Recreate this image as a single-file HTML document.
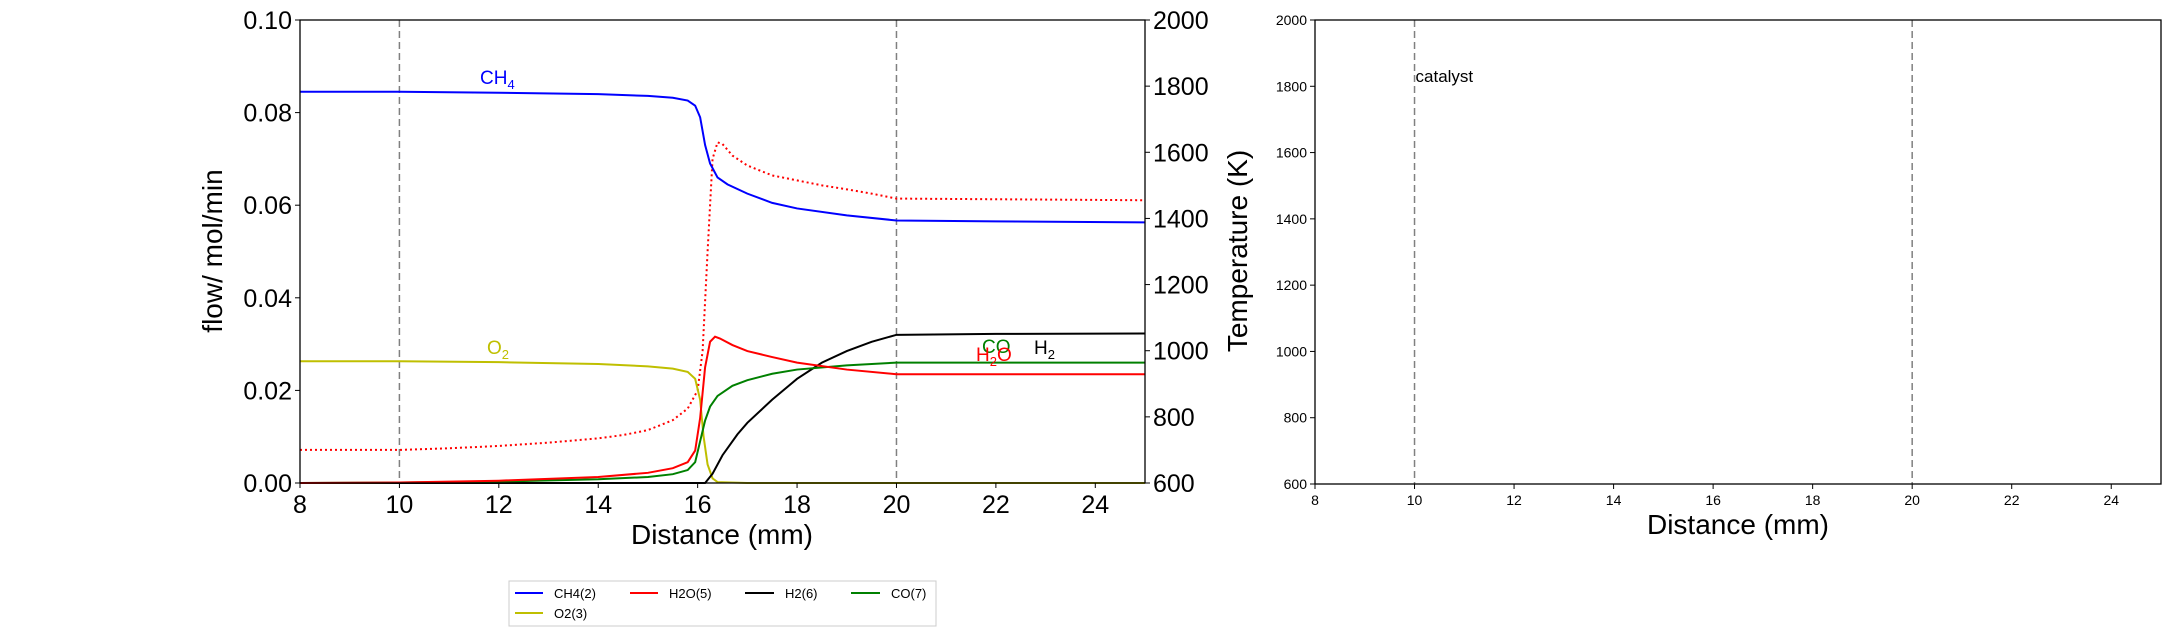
<!DOCTYPE html>
<html><head><meta charset="utf-8"><style>
html,body{margin:0;padding:0;background:#fff;}
svg{display:block;font-family:"Liberation Sans","DejaVu Sans",sans-serif;}
</style></head><body>
<svg id="chart" width="2173" height="636" viewBox="0 0 2173 636">
<g id="left"></g>
<g id="right"></g>
<g>
<rect x="509" y="581" width="427" height="45" fill="#fff" stroke="#ccc" stroke-width="1"/>
<g><line x1="515" y1="593" x2="543" y2="593" stroke="blue" stroke-width="2"/><text x="554" y="598" font-size="13">CH4(2)</text></g>
<g><line x1="630" y1="593" x2="658" y2="593" stroke="red" stroke-width="2"/><text x="669" y="598" font-size="13">H2O(5)</text></g>
<g><line x1="745" y1="593" x2="774" y2="593" stroke="black" stroke-width="2"/><text x="785" y="598" font-size="13">H2(6)</text></g>
<g><line x1="851" y1="593" x2="880" y2="593" stroke="green" stroke-width="2"/><text x="891" y="598" font-size="13">CO(7)</text></g>
<g><line x1="515" y1="613" x2="543" y2="613" stroke="#bfbf00" stroke-width="2"/><text x="554" y="618" font-size="13">O2(3)</text></g>
</g>
</svg>
<script>
const xTicks=[8,10,12,14,16,18,20,22,24];
const flowTicks=[0,0.02,0.04,0.06,0.08,0.10];
const flowTickLabels=["0.00","0.02","0.04","0.06","0.08","0.10"];
const tempTicks=[600,800,1000,1200,1400,1600,1800,2000];
const ch4X=[8,10,12,14,15,15.5,15.8,15.95,16.05,16.15,16.25,16.4,16.6,17,17.5,18,19,20,22,25];
const ch4Y=[0.0845,0.0845,0.0843,0.084,0.0836,0.0832,0.0826,0.0815,0.079,0.073,0.069,0.066,0.0645,0.0625,0.0605,0.0593,0.0578,0.0567,0.0565,0.0563];
const o2X=[8,10,12,14,15,15.5,15.8,15.95,16.05,16.12,16.2,16.3,16.4,17,25];
const o2Y=[0.0263,0.0263,0.0261,0.0257,0.0252,0.0247,0.024,0.0225,0.018,0.01,0.004,0.001,0.0002,0,0];
const h2oX=[8,10,12,14,15,15.5,15.8,15.95,16.05,16.15,16.25,16.35,16.45,16.7,17,17.5,18,19,20,25];
const h2oY=[0,0.0001,0.0005,0.0013,0.0022,0.0032,0.0045,0.007,0.014,0.025,0.0305,0.0316,0.0312,0.0298,0.0285,0.0272,0.026,0.0245,0.0235,0.0235];
const h2X=[8,14,16,16.15,16.3,16.5,16.8,17,17.5,18,18.5,19,19.5,20,22,25];
const h2Y=[0,0,0,0,0.002,0.006,0.0105,0.013,0.018,0.0225,0.026,0.0285,0.0305,0.032,0.0322,0.0323];
const coX=[8,10,12,14,15,15.5,15.8,15.95,16.05,16.15,16.25,16.4,16.7,17,17.5,18,19,20,25];
const coY=[0,0.0001,0.0003,0.0008,0.0013,0.0019,0.0028,0.0045,0.009,0.0135,0.0165,0.0188,0.021,0.0222,0.0236,0.0245,0.0254,0.026,0.026];
const tX=[8,10,11,12,13,14,14.5,15,15.5,15.8,16,16.1,16.2,16.3,16.4,16.5,16.7,17,17.5,18,18.5,19,19.5,20,22,25];
const tY=[700,700,705,712,722,735,745,760,790,825,880,1000,1300,1580,1630,1625,1590,1560,1530,1515,1500,1488,1475,1460,1458,1455];

const NS="http://www.w3.org/2000/svg";
function mk(parent,tag,attrs,name,text){const e=document.createElementNS(NS,tag);for(const k in attrs)e.setAttribute(k,attrs[k]);


if(text!==undefined)e.textContent=text;parent.appendChild(e);return e;}

// left plot
const L={x0:300,x1:1145,y0:20,y1:483};
const xs=v=>L.x0+(v-8)/17*(L.x1-L.x0);
const yF=v=>L.y1-v/0.1*(L.y1-L.y0);
const yT=v=>L.y1-(v-600)/1400*(L.y1-L.y0);
const gl=document.getElementById('left');
[10,20].forEach(v=>mk(gl,'line',{x1:xs(v),x2:xs(v),y1:L.y0,y2:L.y1,stroke:'#808080','stroke-width':1.5,'stroke-dasharray':'7,4'},'catalyst-boundary-line'));
function path(X,Y,sy){return X.map((x,i)=>(i?'L':'M')+xs(x).toFixed(2)+','+sy(Y[i]).toFixed(2)).join(' ');}
mk(gl,'path',{d:path(tX,tY,yT),fill:'none',stroke:'red','stroke-width':2,'stroke-dasharray':'2,3'},'temperature-line');
mk(gl,'path',{d:path(ch4X,ch4Y,yF),fill:'none',stroke:'blue','stroke-width':2},'ch4-line');
mk(gl,'path',{d:path(o2X,o2Y,yF),fill:'none',stroke:'#bfbf00','stroke-width':2},'o2-line');
mk(gl,'path',{d:path(h2X,h2Y,yF),fill:'none',stroke:'black','stroke-width':2},'h2-line');
mk(gl,'path',{d:path(coX,coY,yF),fill:'none',stroke:'green','stroke-width':2},'co-line');
mk(gl,'path',{d:path(h2oX,h2oY,yF),fill:'none',stroke:'red','stroke-width':2},'h2o-line');
mk(gl,'rect',{x:L.x0,y:L.y0,width:L.x1-L.x0,height:L.y1-L.y0,fill:'none',stroke:'#000','stroke-width':1.3},'left-plot-frame');
xTicks.forEach(v=>{mk(gl,'line',{x1:xs(v),x2:xs(v),y1:L.y1,y2:L.y1+5,stroke:'#000'},'x-tick');
mk(gl,'text',{x:xs(v),y:L.y1+30,'font-size':25,'text-anchor':'middle'},'x-tick-label',v);});
flowTicks.forEach((v,i)=>{mk(gl,'line',{x1:L.x0-5,x2:L.x0,y1:yF(v),y2:yF(v),stroke:'#000'},'flow-tick');
mk(gl,'text',{x:L.x0-8,y:yF(v)+9,'font-size':25,'text-anchor':'end'},'flow-tick-label',flowTickLabels[i]);});
tempTicks.forEach(v=>{mk(gl,'line',{x1:L.x1,x2:L.x1+5,y1:yT(v),y2:yT(v),stroke:'#000'},'temp-tick');
mk(gl,'text',{x:L.x1+8,y:yT(v)+9,'font-size':25},'temp-tick-label',v);});
mk(gl,'text',{x:722,y:544,'font-size':28,'text-anchor':'middle'},'x-axis-title','Distance (mm)');
mk(gl,'text',{x:0,y:0,'font-size':28,'text-anchor':'middle',transform:'translate(222,251) rotate(-90)'},'flow-axis-title','flow/ mol/min');
mk(gl,'text',{x:0,y:0,'font-size':28,'text-anchor':'middle',transform:'translate(1247,251) rotate(-90)'},'temperature-axis-title','Temperature (K)');
function lab(x,y,col,main,sub,tail,name){const t=mk(gl,'text',{x:x,y:y,fill:col,'font-size':19},name);
t.appendChild(document.createTextNode(main));const s=document.createElementNS(NS,'tspan');s.setAttribute('font-size','13');s.setAttribute('dy','5');s.textContent=sub;t.appendChild(s);
if(tail){const s2=document.createElementNS(NS,'tspan');s2.setAttribute('dy','-5');s2.textContent=tail;t.appendChild(s2);}}
lab(480,84,'blue','CH','4','','ch4-label');
lab(487,354,'#bfbf00','O','2','','o2-label');
mk(gl,'text',{x:982,y:353,fill:'green','font-size':19},'co-label','CO');
lab(976,361,'red','H','2','O','h2o-label');
lab(1034,354,'black','H','2','','h2-label');

// right plot
const R={x0:1315,x1:2161,y0:20,y1:484};
const xr=v=>R.x0+(v-8)/17*(R.x1-R.x0);
const yr=v=>R.y1-(v-600)/1400*(R.y1-R.y0);
const gr=document.getElementById('right');
[10,20].forEach(v=>mk(gr,'line',{x1:xr(v),x2:xr(v),y1:R.y0,y2:R.y1,stroke:'#808080','stroke-width':1.5,'stroke-dasharray':'7,4'},'catalyst-boundary-line'));
mk(gr,'rect',{x:R.x0,y:R.y0,width:R.x1-R.x0,height:R.y1-R.y0,fill:'none',stroke:'#000','stroke-width':1.3},'right-plot-frame');
xTicks.forEach(v=>{mk(gr,'line',{x1:xr(v),x2:xr(v),y1:R.y1,y2:R.y1+5,stroke:'#000'},'x-tick');
mk(gr,'text',{x:xr(v),y:R.y1+21,'font-size':14,'text-anchor':'middle'},'x-tick-label',v);});
tempTicks.forEach(v=>{mk(gr,'line',{x1:R.x0-5,x2:R.x0,y1:yr(v),y2:yr(v),stroke:'#000'},'temp-tick');
mk(gr,'text',{x:R.x0-8,y:yr(v)+5,'font-size':14,'text-anchor':'end'},'temp-tick-label',v);});
mk(gr,'text',{x:xr(10)+1,y:82,'font-size':17},'catalyst-label','catalyst');
mk(gr,'text',{x:1738,y:534,'font-size':28,'text-anchor':'middle'},'x-axis-title','Distance (mm)');
</script>
</body></html>
